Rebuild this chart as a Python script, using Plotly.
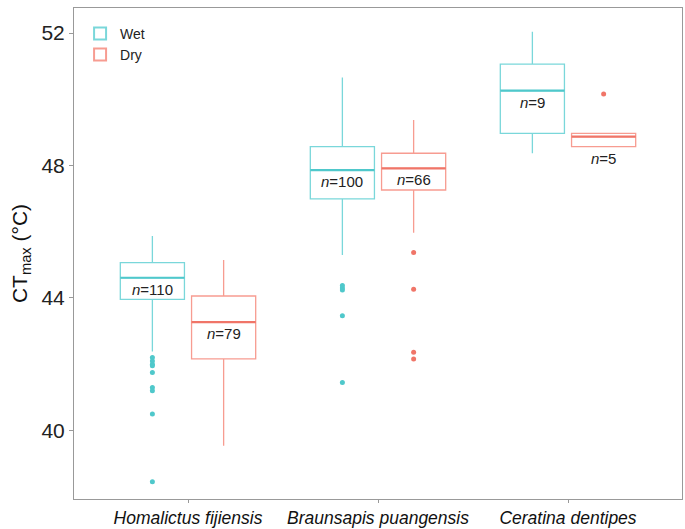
import plotly.graph_objects as go

species = ["Homalictus fijiensis", "Braunsapis puangensis", "Ceratina dentipes"]
conditions = ["Wet", "Dry"]

wet_q1 = [43.96, 46.99, 48.97]
wet_median = [44.61, 47.86, 50.26]
wet_q3 = [45.07, 48.57, 51.06]
wet_lower = [42.38, 45.30, 48.37]
wet_upper = [45.87, 50.66, 52.04]
wet_n = [110, 100, 9]
wet_outliers = [
    [42.2, 42.1, 42.0, 41.95, 41.75, 41.3, 41.2, 40.5, 38.45],
    [44.38, 44.3, 44.24, 43.46, 41.45],
    [],
]

dry_q1 = [42.16, 47.26, 48.57]
dry_median = [43.27, 47.91, 48.87]
dry_q3 = [44.06, 48.37, 48.97]
dry_lower = [39.54, 45.97, 48.57]
dry_upper = [45.15, 49.37, 48.97]
dry_n = [79, 66, 5]
dry_outliers = [
    [],
    [45.37, 44.26, 42.36, 42.16],
    [50.16],
]

y_ticks = [40, 44, 48, 52]

box_colors = {"Wet": "#7AD7DA", "Dry": "#F79C91"}
median_colors = {"Wet": "#4FC8CB", "Dry": "#F07568"}
dodge = 0.75
box_frac = 0.9

series = {
    "Wet": dict(q1=wet_q1, med=wet_median, q3=wet_q3, lo=wet_lower, hi=wet_upper,
                n=wet_n, out=wet_outliers),
    "Dry": dict(q1=dry_q1, med=dry_median, q3=dry_q3, lo=dry_lower, hi=dry_upper,
                n=dry_n, out=dry_outliers),
}

fig = go.Figure()
slot = dodge / len(conditions)
annotations = []
for g, cond in enumerate(conditions):
    s = series[cond]
    off = (g - (len(conditions) - 1) / 2) * slot
    xs = [i + off for i in range(len(species))]
    fig.add_trace(go.Box(
        name=cond, x=xs, q1=s["q1"], median=s["med"], q3=s["q3"],
        lowerfence=s["lo"], upperfence=s["hi"],
        width=slot * box_frac, boxpoints=False,
        line=dict(color=box_colors[cond], width=1.3),
        fillcolor="rgba(255,255,255,0)", whiskerwidth=0,
        showlegend=True, hoverinfo="skip",
    ))
    # thicker median line
    fig.add_trace(go.Box(
        name=cond, x=xs, q1=s["med"], median=s["med"], q3=s["med"],
        lowerfence=s["med"], upperfence=s["med"],
        width=slot * box_frac, boxpoints=False,
        line=dict(color=median_colors[cond], width=2.2),
        fillcolor="rgba(255,255,255,0)", whiskerwidth=0,
        showlegend=False, hoverinfo="skip",
    ))
    ox, oy = [], []
    for i, pts in enumerate(s["out"]):
        for v in pts:
            ox.append(xs[i])
            oy.append(v)
    fig.add_trace(go.Scatter(
        x=ox, y=oy, mode="markers", showlegend=False,
        marker=dict(color=median_colors[cond], size=5), hoverinfo="skip",
    ))
    for i in range(len(species)):
        small = (s["q3"][i] - s["q1"][i]) < 0.5
        ypos = s["q1"][i] if small else s["med"][i]
        annotations.append(dict(
            x=xs[i], y=ypos, xref="x", yref="y", yanchor="top",
            yshift=-1,
            text=f"<i>n</i>={s['n'][i]}", showarrow=False,
            font=dict(size=15, color="#222222", family="Liberation Sans, Arial, sans-serif"),
        ))

fig.update_layout(
    width=685, height=529,
    margin=dict(l=74, r=3, t=8, b=30),
    plot_bgcolor="white", paper_bgcolor="white",
    font=dict(family="Liberation Sans, Arial, sans-serif", color="#222222"),
    showlegend=True,
    legend=dict(x=0.01, y=0.98, xanchor="left", yanchor="top",
                bgcolor="rgba(0,0,0,0)", font=dict(size=14, color="#222222"),
                tracegroupgap=0, itemsizing="constant"),
    annotations=annotations,
)
fig.update_xaxes(
    range=[-0.6, 2.6], tickvals=list(range(len(species))),
    ticktext=[f"<i>{s}</i>" for s in species],
    ticks="outside", ticklen=3, tickcolor="#999999",
    tickfont=dict(size=17.5, color="#111111"),
    showline=True, mirror=True, linecolor="#999999", linewidth=1,
    showgrid=False, zeroline=False, automargin=False,
)
fig.update_yaxes(
    range=[37.93, 52.755], tickvals=y_ticks,
    ticks="outside", ticklen=4, tickcolor="#999999",
    tickfont=dict(size=21, color="#222222"),
    title=dict(text="CT<sub>max</sub> (°C)", font=dict(size=21, color="#111111"), standoff=8),
    showline=True, mirror=True, linecolor="#999999", linewidth=1,
    showgrid=False, zeroline=False, automargin=False,
)

fig.write_html("out.html", config={"displayModeBar": False},
               post_script="document.body.style.margin='0';")
